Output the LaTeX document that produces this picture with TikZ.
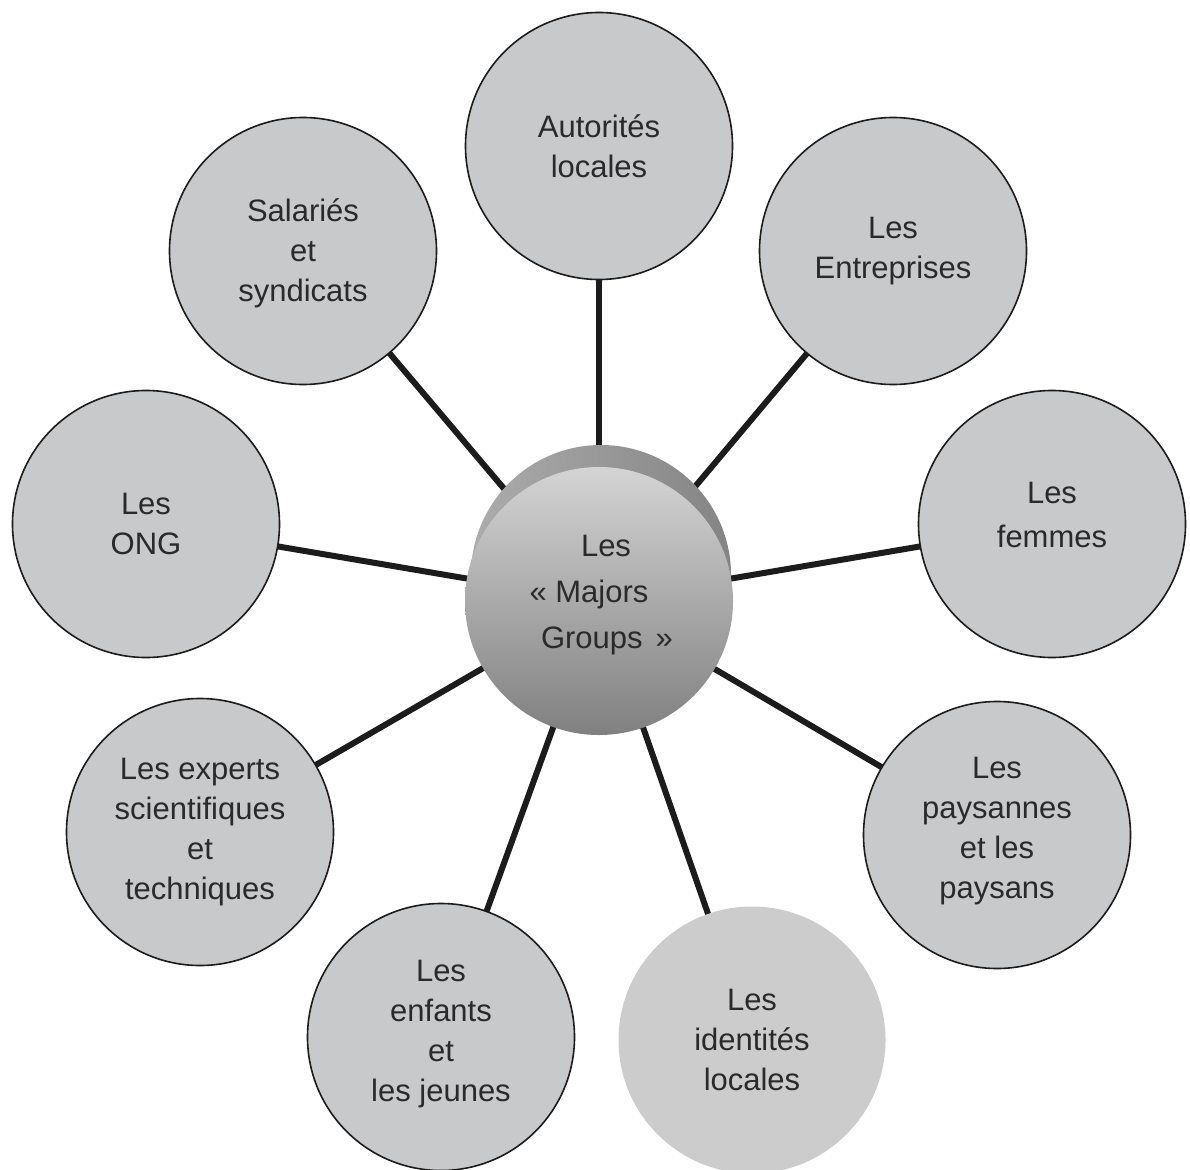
\documentclass[tikz,border=0pt]{standalone}
\usepackage{fontspec}
\setmainfont{Liberation Sans}
\usetikzlibrary{backgrounds}
\definecolor{discfill}{RGB}{200,201,203}
\definecolor{discfilllight}{RGB}{204,204,205}
\definecolor{inkline}{RGB}{28,28,28}
\definecolor{labeltext}{RGB}{42,42,42}
\definecolor{hubtop}{RGB}{212,212,213}
\definecolor{hubbottom}{RGB}{128,128,129}
\definecolor{backleft}{RGB}{172,172,173}
\definecolor{backright}{RGB}{132,132,133}
\tikzset{
  group/.style={circle, draw=inkline, line width=1.6pt, fill=discfill,
    minimum size=267pt, inner sep=0pt, align=center, text=labeltext,
    font=\fontsize{31}{40}\selectfont},
  plaingroup/.style={group, draw=none, fill=discfilllight},
  spoke/.style={line width=6pt, draw=inkline},
}
\begin{document}
\begin{tikzpicture}[x=1pt,y=-1pt]
\useasboundingbox (0,0) rectangle (1190,1169);

% outer groups
\node[group] (aut) at (599,146) {Autorités\\locales};
\node[group] (ent) at (893,251) {Les\\Entreprises};
\node[group, font=\fontsize{31}{44}\selectfont, text depth=18pt] (fem) at (1052,524) {Les\\femmes};
\node[group, text depth=14pt] (pay) at (997,835) {Les\\paysannes\\et les\\paysans};
\node[plaingroup] (ide) at (752,1040) {Les\\identités\\locales};
\node[group, text depth=12pt] (enf) at (441,1037) {Les\\enfants\\et\\les jeunes};
\node[group] (exp) at (200,832) {Les experts\\scientifiques\\et\\techniques};
\node[group] (ong) at (146,524) {Les\\ONG};
\node[group, text depth=1pt] (sal) at (303,251) {Salariés\\et\\syndicats};

% central hub drawn as a short cylinder
\node[circle, minimum size=260pt, inner sep=0pt, left color=backleft, right color=backright] (hubback) at (601,575) {};
\node[circle, minimum size=268pt, inner sep=0pt, top color=hubtop, bottom color=hubbottom,
  align=center, text=labeltext, font=\fontsize{31}{46}\selectfont, text depth=18pt] (hub) at (599,601)
  {\makebox[14pt]{}Les\\« Majors\makebox[20pt]{}\\\makebox[16pt]{}Groups\hspace{0.42em}»};

% spokes behind all discs
\begin{pgfonlayer}{background}
  \fill[white] (0,0) rectangle (1190,1169);
  \foreach \n in {aut,ent,fem,pay,ide,enf,exp,ong,sal}
    \draw[spoke] (hub.center) -- (\n.center);
\end{pgfonlayer}
\end{tikzpicture}
\end{document}
